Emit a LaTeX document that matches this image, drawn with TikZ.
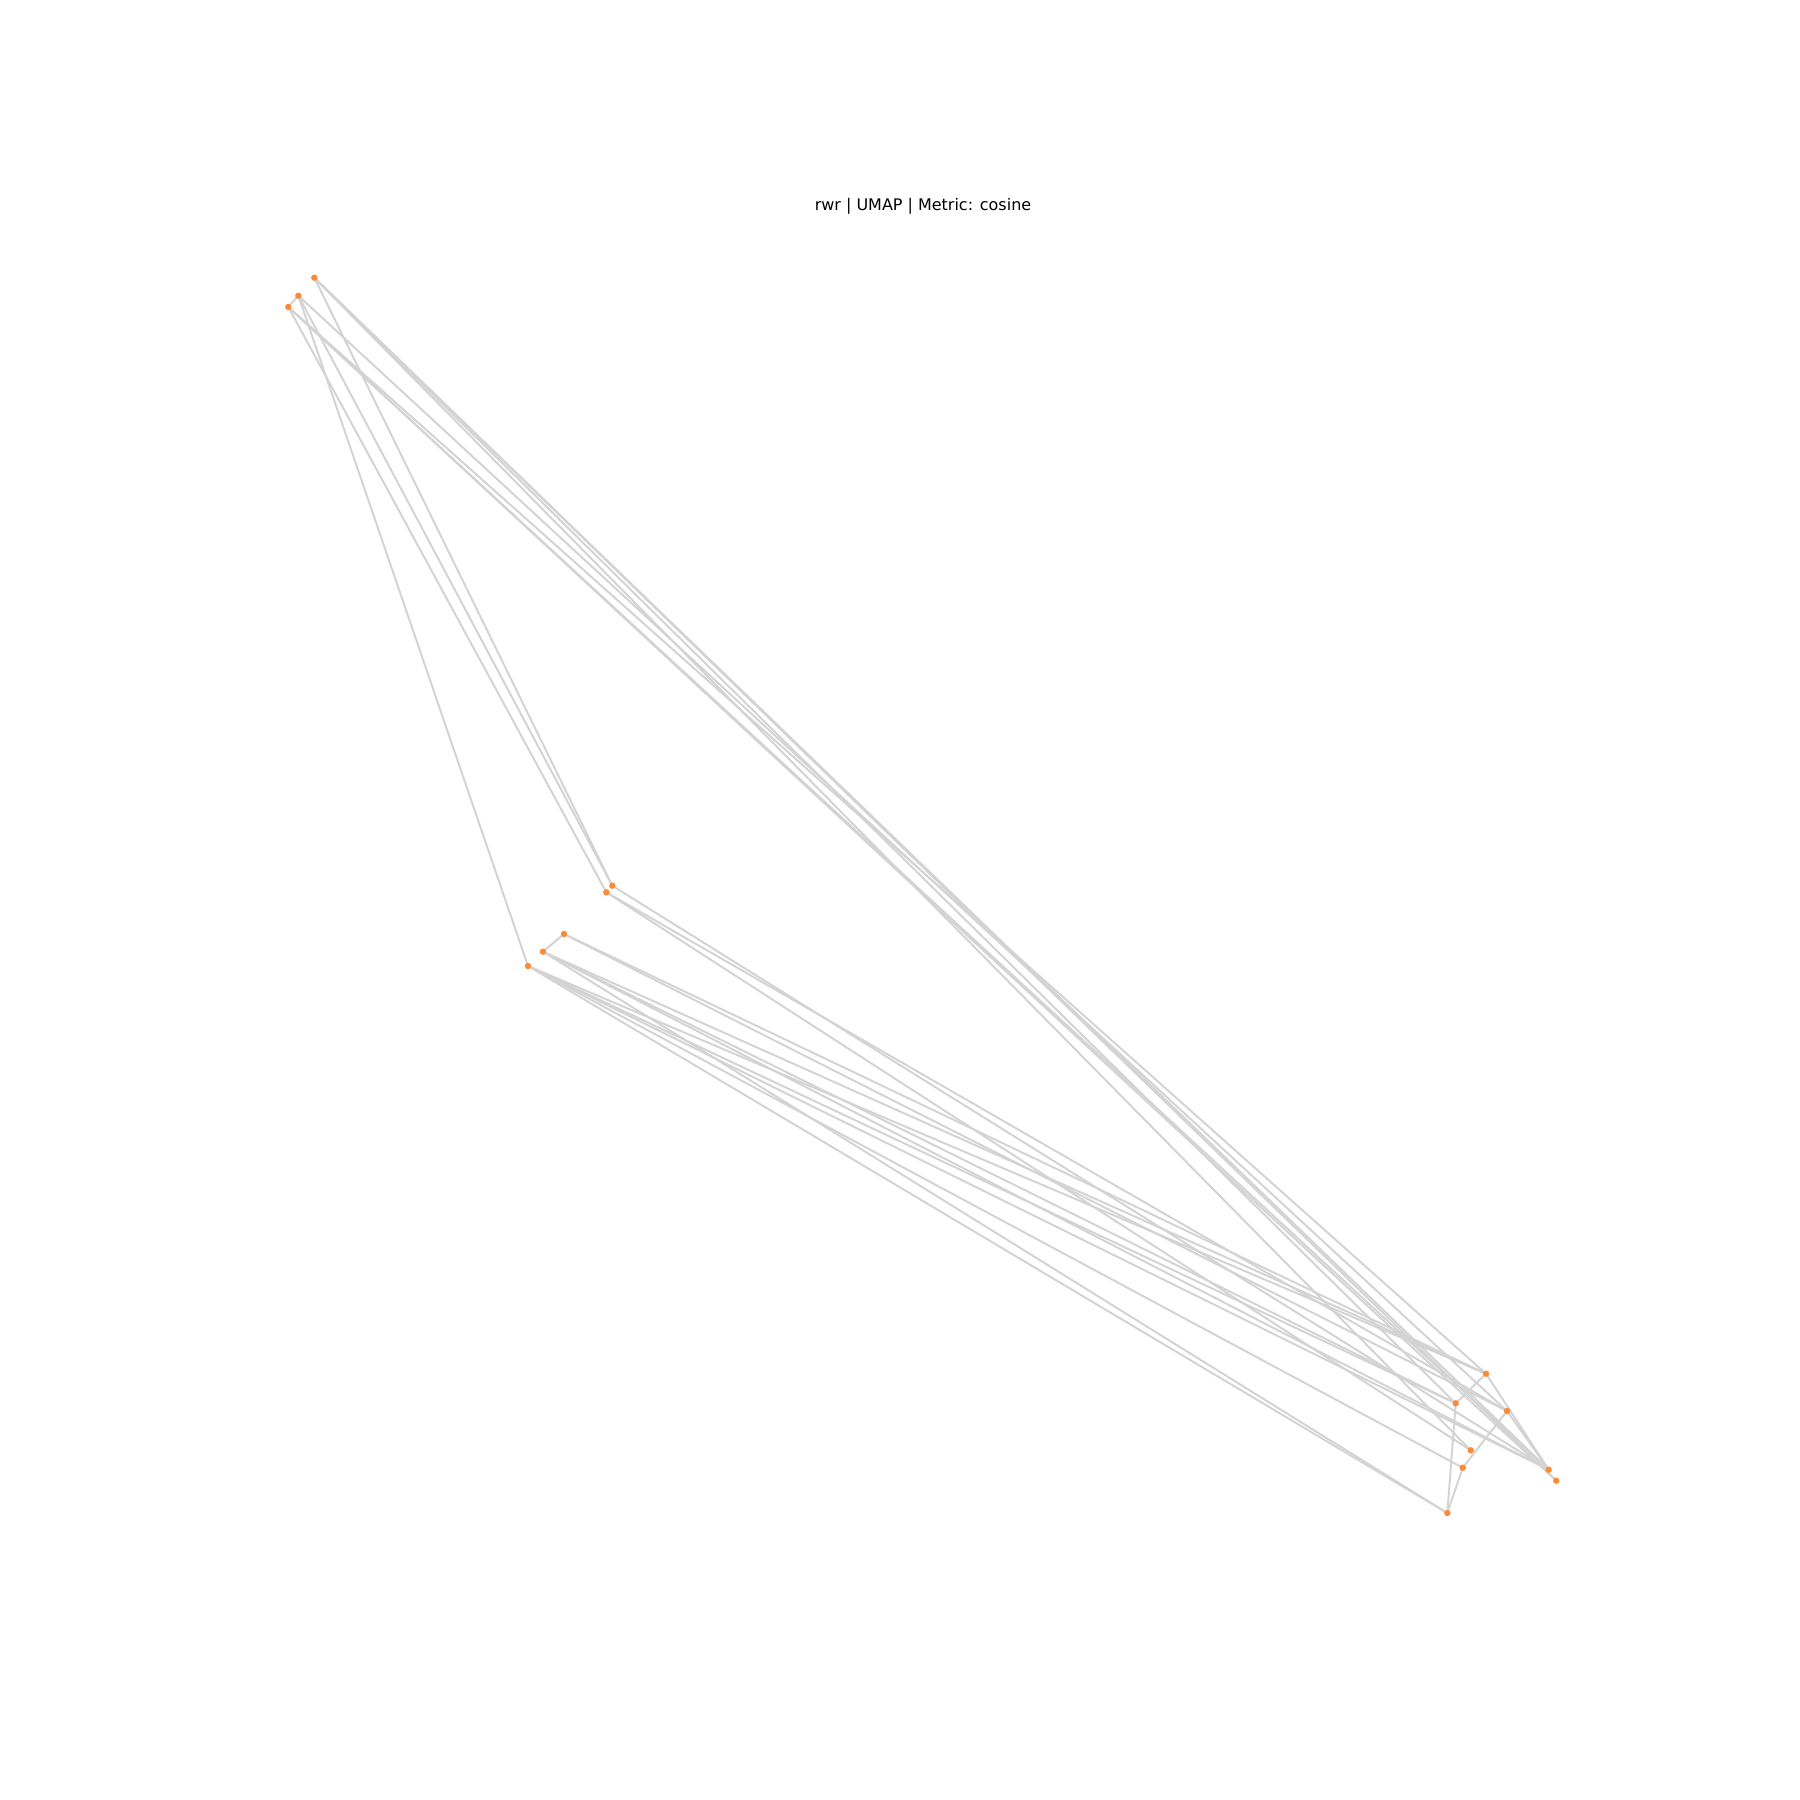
\documentclass[tikz,border=0pt]{standalone}
\usepackage{fontspec}
\setmainfont{DejaVu Sans}
\definecolor{edgegray}{HTML}{D3D3D3}
\definecolor{nodeorange}{HTML}{FF8A36}
\begin{document}
\begin{tikzpicture}[x=0.72pt,y=-0.72pt,
  vtx/.style={circle,fill=nodeorange,draw=none,inner sep=0pt,minimum size=4.6pt},
  edge/.style={draw=edgegray,line width=1.4pt}]
\useasboundingbox (0,0) rectangle (1800,1800);
\node[font=\fontsize{11.5}{14}\selectfont,anchor=base] (title) at (923,210) {rwr | UMAP | Metric: cosine};
\coordinate (A) at (314.3,277.7);
\coordinate (B) at (298.3,295.7);
\coordinate (C) at (288.3,307);
\coordinate (D) at (612.3,885.7);
\coordinate (E) at (606.3,892.3);
\coordinate (F) at (564,934);
\coordinate (G) at (543,951.7);
\coordinate (H) at (528,966);
\coordinate (I) at (1486,1373.7);
\coordinate (J) at (1455.7,1403.3);
\coordinate (K) at (1507,1411);
\coordinate (L) at (1470.7,1450.3);
\coordinate (M) at (1462.7,1467.7);
\coordinate (N) at (1548.7,1469.7);
\coordinate (O) at (1556.3,1480.7);
\coordinate (P) at (1447.3,1513);
\foreach \u/\v in {B/C,F/G,I/J,J/P,M/P,K/M,I/N,K/N,
  A/D,B/D,C/E,B/H,
  C/I,A/N,A/O,A/J,B/K,A/L,C/N,C/O,
  E/K,E/L,F/I,F/K,G/I,H/I,G/J,H/J,G/N,H/N,H/M,G/P,H/P,D/N}
  \draw[edge] (\u) -- (\v);
\foreach \n in {A,B,C,D,E,F,G,H,I,J,K,L,M,N,O,P}
  \node[vtx] (n\n) at (\n) {};
\end{tikzpicture}
\end{document}
